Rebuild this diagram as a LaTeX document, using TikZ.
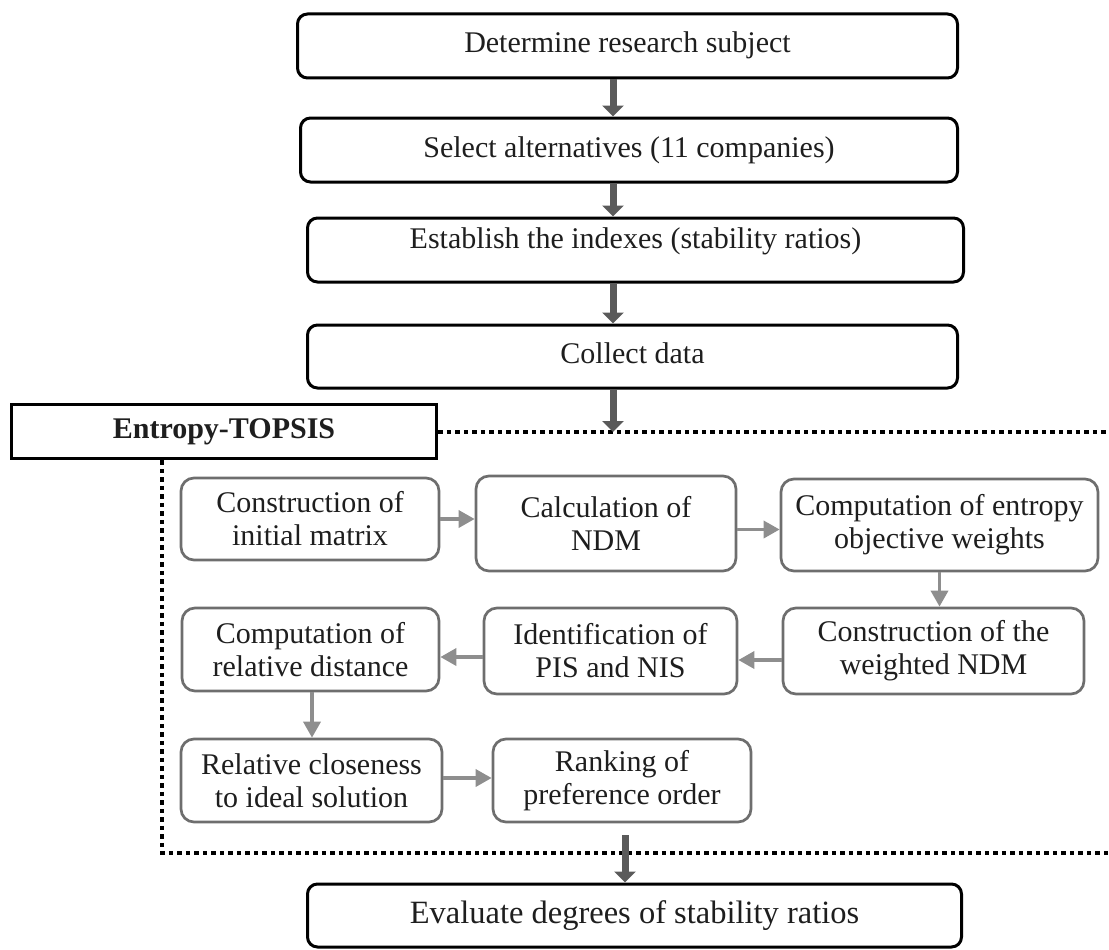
\documentclass[tikz,border=0pt]{standalone}
\usepackage{fontspec}
\setmainfont{Liberation Serif}
\usetikzlibrary{arrows.meta}
\definecolor{txt}{HTML}{1E1E1E}
\definecolor{bigarr}{HTML}{5A5A5A}
\definecolor{innerbd}{HTML}{6E6E6E}
\definecolor{innerarr}{HTML}{8E8E8E}
\tikzset{
  mainbox/.style={draw=black, line width=3pt, rounded corners=10pt, text=txt,
    font=\fontsize{30}{33}\selectfont, inner sep=0pt, text height=21pt, text depth=7pt},
  innerbox/.style={draw=innerbd, line width=2.7pt, rounded corners=13pt, text=txt,
    font=\fontsize{30}{33}\selectfont, align=center, inner sep=0pt},
  entbox/.style={draw=black, line width=3.5pt, text=txt,
    font=\fontsize{30}{33}\selectfont\bfseries, inner sep=0pt},
  bigarrow/.style={draw=bigarr, line width=7pt, -{Triangle[length=11pt,width=21pt]}},
  smallarrow/.style={draw=innerarr, line width=3.5pt, -{Triangle[length=16pt,width=17pt]}},
  dotline/.style={draw=black, line width=4pt, dash pattern=on 4.5pt off 4pt},
}
\begin{document}
\begin{tikzpicture}[x=1pt,y=-1pt]
\useasboundingbox (0,0) rectangle (1109,950);
% top boxes
\node[mainbox, minimum width=660pt, minimum height=64pt] (b1) at (627.5,46) {Determine research subject};
\node[mainbox, minimum width=657pt, minimum height=64pt] (b2) at (629,150) {Select alternatives (11 companies)};
\node[mainbox, minimum width=656pt, minimum height=64pt, text depth=25pt] (b3) at (635.5,250) {Establish the indexes (stability ratios)};
\node[mainbox, minimum width=650pt, minimum height=63pt] (b4) at (632.5,356.5) {Collect data};
% Entropy-TOPSIS label box
\node[entbox, minimum width=425pt, minimum height=54pt] (ent) at (224,431.5) {Entropy-TOPSIS};
% helper coordinates
\coordinate (ax) at (613,0);
\coordinate (tr) at (1109,432);
\coordinate (bl) at (162,853);
\coordinate (br) at (1109,853);
\coordinate (bs) at (625,835);
% dotted frame
\draw[dotline] (ent.east) -- (ent.east -| tr);
\draw[dotline] (bl |- ent.south) -- (bl) -- (br);
% inner boxes
\node[innerbox, minimum width=258pt, minimum height=82pt] (A) at (310,519) {Construction of\\initial matrix};
\node[innerbox, minimum width=260pt, minimum height=95pt] (B) at (606,523.5) {Calculation of\\NDM};
\node[innerbox, minimum width=317pt, minimum height=92pt] (C) at (939.5,525) {Computation of entropy\\objective weights};
\node[innerbox, minimum width=257pt, minimum height=83pt] (D) at (310.5,649.5) {Computation of\\relative distance};
\node[innerbox, minimum width=253pt, minimum height=86pt] (E) at (610.5,651) {Identification of\\PIS and NIS};
\node[innerbox, minimum width=301pt, minimum height=86pt] (F) at (933.5,651) {Construction of the\\weighted NDM};
\node[innerbox, minimum width=261pt, minimum height=83pt] (G) at (311.5,780.5) {Relative closeness\\to ideal solution};
\node[innerbox, minimum width=258pt, minimum height=83pt] (H) at (622,780.5) {Ranking of\\preference order};
% final box
\node[mainbox, minimum width=654pt, minimum height=63pt, font=\fontsize{32.5}{36}\selectfont, text height=23pt] (ev) at (634.5,915.5) {Evaluate degrees of stability ratios};
% main arrows
\draw[bigarrow] (b1.south -| ax) -- (b2.north -| ax);
\draw[bigarrow] (b2.south -| ax) -- (b3.north -| ax);
\draw[bigarrow] (b3.south -| ax) -- (b4.north -| ax);
\draw[bigarrow] (b4.south -| ax) -- (ax |- tr);
\draw[bigarrow] (bs) -- (bs |- ev.north);
% inner arrows
\draw[smallarrow] ([yshift=0pt]A.east) -- (A.east -| B.west);
\draw[smallarrow] ([yshift=-6pt]B.east) -- ([yshift=-6pt]B.east -| C.west);
\draw[smallarrow] (C.south) -- (C.south |- F.north);
\draw[smallarrow] ([yshift=-9pt]F.west) -- ([yshift=-9pt]F.west -| E.east);
\draw[smallarrow] ([yshift=-6pt]E.west) -- ([yshift=-6pt]E.west -| D.east);
\draw[smallarrow] ([xshift=1.5pt]D.south) -- ([xshift=1.5pt]D.south |- G.north);
\draw[smallarrow] ([yshift=2.5pt]G.east) -- ([yshift=2.5pt]G.east -| H.west);
\end{tikzpicture}
\end{document}
